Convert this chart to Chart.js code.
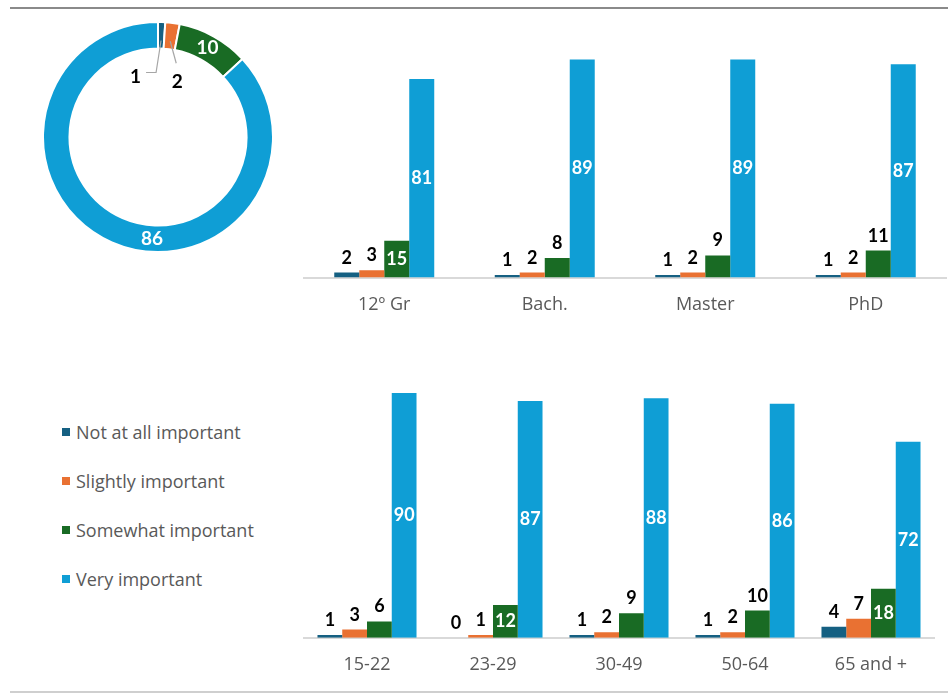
<!DOCTYPE html>
<html>
<head>
<meta charset="utf-8">
<script src="https://cdn.jsdelivr.net/npm/chart.js@4.4.1/dist/chart.umd.min.js"></script>
<style>
  html, body { margin:0; padding:0; background:#fff; }
  body { width:948px; height:693px; position:relative; overflow:hidden; font-family:"Open Sans", sans-serif; }
  canvas { position:absolute; }
  .rule { position:absolute; left:10px; right:0; }
  #topRule { top:7px; height:2px; background:#8a8a8a; }
  #bottomRule { top:691px; height:2px; background:#cfcfcf; }
  #legend { position:absolute; left:62px; top:420px; }
  .item { position:absolute; left:0; height:24px; white-space:nowrap; color:#595959; font-size:18px; line-height:24px; }
  .sw { position:absolute; left:0; top:8px; width:8px; height:8px; }
  .txt { position:absolute; left:14px; top:0; }
</style>
</head>
<body>
<div class="rule" id="topRule"></div>
<div class="rule" id="bottomRule"></div>
<canvas id="donut" width="232" height="232" style="left:42px; top:21px;"></canvas>
<canvas id="edu" width="648" height="320" style="left:300px; top:0px;"></canvas>
<canvas id="age" width="648" height="353" style="left:300px; top:340px;"></canvas>
<div id="legend"></div>
<script>
// ---------- data ----------
const seriesNames = ['Not at all important', 'Slightly important', 'Somewhat important', 'Very important'];
const overallValues = [1, 2, 10, 86];

const educationLabels = ['12º Gr', 'Bach.', 'Master', 'PhD'];
const eduNotAtAll = [2, 1, 1, 1];
const eduSlightly = [3, 2, 2, 2];
const eduSomewhat = [15, 8, 9, 11];
const eduVery = [81, 89, 89, 87];

const ageLabels = ['15-22', '23-29', '30-49', '50-64', '65 and +'];
const ageNotAtAll = [1, 0, 1, 1, 4];
const ageSlightly = [3, 1, 2, 2, 7];
const ageSomewhat = [6, 12, 9, 10, 18];
const ageVery = [90, 87, 88, 86, 72];

// ---------- styles ----------
const seriesColors = ['#156082', '#E97132', '#196B24', '#0F9ED5'];

// ---------- legend (HTML text) ----------
const legendEl = document.getElementById('legend');
seriesNames.forEach((name, i) => {
  const it = document.createElement('div');
  it.className = 'item';
  it.style.top = (i * 49) + 'px';
  it.innerHTML = '<span class="sw" style="background:' + seriesColors[i] + '"></span><span class="txt"></span>';
  it.querySelector('.txt').textContent = name;
  legendEl.appendChild(it);
});

// ---------- bar labels plugin ----------
const barLabels = {
  id: 'barLabels',
  afterDatasetsDraw(chart) {
    const ctx = chart.ctx;
    chart.data.datasets.forEach((ds, di) => {
      const meta = chart.getDatasetMeta(di);
      meta.data.forEach((bar, i) => {
        const v = ds.data[i];
        const h = bar.base - bar.y;
        ctx.save();
        ctx.font = 'bold 18px Lato';
        ctx.textAlign = 'center';
        if (h >= 30) {
          ctx.fillStyle = '#ffffff';
          ctx.textBaseline = 'middle';
          ctx.fillText(String(v), bar.x, (bar.y + bar.base) / 2);
        } else {
          ctx.fillStyle = '#000000';
          ctx.textBaseline = 'alphabetic';
          ctx.fillText(String(v), bar.x, bar.y - 9);
        }
        ctx.restore();
      });
    });
  }
};

function makeDatasets(arrs, catPct) {
  return arrs.map((d, i) => ({
    label: seriesNames[i],
    data: d,
    backgroundColor: seriesColors[i],
    borderWidth: 0,
    barPercentage: 1.0,
    categoryPercentage: catPct
  }));
}

function barOptions(padTop, padLeft, padRight, axisHeight, tickPad) {
  return {
    responsive: false,
    maintainAspectRatio: false,
    animation: false,
    devicePixelRatio: 1,
    layout: { padding: { top: padTop, left: padLeft, right: padRight, bottom: 0 } },
    plugins: { legend: { display: false }, tooltip: { enabled: false } },
    events: [],
    scales: {
      x: {
        type: 'category',
        grid: { display: false, drawTicks: false },
        border: { display: true, color: '#d9d9d9', width: 2 },
        ticks: { color: '#595959', font: { family: 'Open Sans', size: 18 }, padding: tickPad, maxRotation: 0, autoSkip: false },
        afterFit(scale) { scale.height = axisHeight; }
      },
      y: { display: false, min: 0, max: 100 }
    }
  };
}

new Chart(document.getElementById('edu'), {
  type: 'bar',
  data: { labels: educationLabels, datasets: makeDatasets([eduNotAtAll, eduSlightly, eduSomewhat, eduVery], 0.623) },
  options: barOptions(32.5, 4, 2, 42.5, 17),
  plugins: [barLabels]
});

new Chart(document.getElementById('age'), {
  type: 'bar',
  data: { labels: ageLabels, datasets: makeDatasets([ageNotAtAll, ageSlightly, ageSomewhat, ageVery], 0.786) },
  options: barOptions(25.7, 4, 14, 55.3, 16),
  plugins: [barLabels]
});

// ---------- doughnut labels plugin ----------
const donutLabels = {
  id: 'donutLabels',
  afterDatasetsDraw(chart) {
    const ctx = chart.ctx;
    const ds = chart.data.datasets[0];
    const meta = chart.getDatasetMeta(0);
    const maxIdx = ds.data.indexOf(Math.max(...ds.data));
    meta.data.forEach((arc, i) => {
      const v = ds.data[i];
      const mid = (arc.startAngle + arc.endAngle) / 2;
      const rMid = (arc.innerRadius + arc.outerRadius) / 2;
      ctx.save();
      ctx.font = 'bold 19px Lato';
      if (v >= 5) {
        // label inside the ring
        const a = (i === maxIdx) ? Math.PI / 2 + 0.06 : mid;
        const px = arc.x + rMid * Math.cos(a);
        const py = arc.y + rMid * Math.sin(a);
        ctx.fillStyle = '#ffffff';
        ctx.textAlign = 'center';
        ctx.textBaseline = 'middle';
        ctx.fillText(String(v), px, py);
      } else {
        // callout with leader line into the hole
        const sx = arc.x + (arc.innerRadius + 8) * Math.cos(mid);
        const sy = arc.y + (arc.innerRadius + 8) * Math.sin(mid);
        ctx.strokeStyle = '#a6a6a6';
        ctx.lineWidth = 1.2;
        ctx.beginPath();
        ctx.moveTo(sx, sy);
        ctx.fillStyle = '#000000';
        ctx.textBaseline = 'middle';
        if (i === 0) {
          const ex = sx - 5, ey = sy + 32;
          ctx.lineTo(ex, ey);
          ctx.lineTo(ex - 10, ey);
          ctx.stroke();
          ctx.textAlign = 'right';
          ctx.fillText(String(v), ex - 15, ey + 4);
        } else {
          const ex = sx + 6, ey = sy + 22;
          ctx.lineTo(ex, ey);
          ctx.stroke();
          ctx.textAlign = 'center';
          ctx.fillText(String(v), ex + 1, ey + 19);
        }
      }
      ctx.restore();
    });
  }
};

new Chart(document.getElementById('donut'), {
  type: 'doughnut',
  data: {
    labels: seriesNames,
    datasets: [{ data: overallValues, backgroundColor: seriesColors, borderColor: '#ffffff', borderWidth: 2 }]
  },
  options: {
    responsive: false,
    maintainAspectRatio: false,
    animation: false,
    devicePixelRatio: 1,
    cutout: '77%',
    rotation: 0,
    layout: { padding: 0 },
    events: [],
    plugins: { legend: { display: false }, tooltip: { enabled: false } }
  },
  plugins: [donutLabels]
});
</script>
</body>
</html>
